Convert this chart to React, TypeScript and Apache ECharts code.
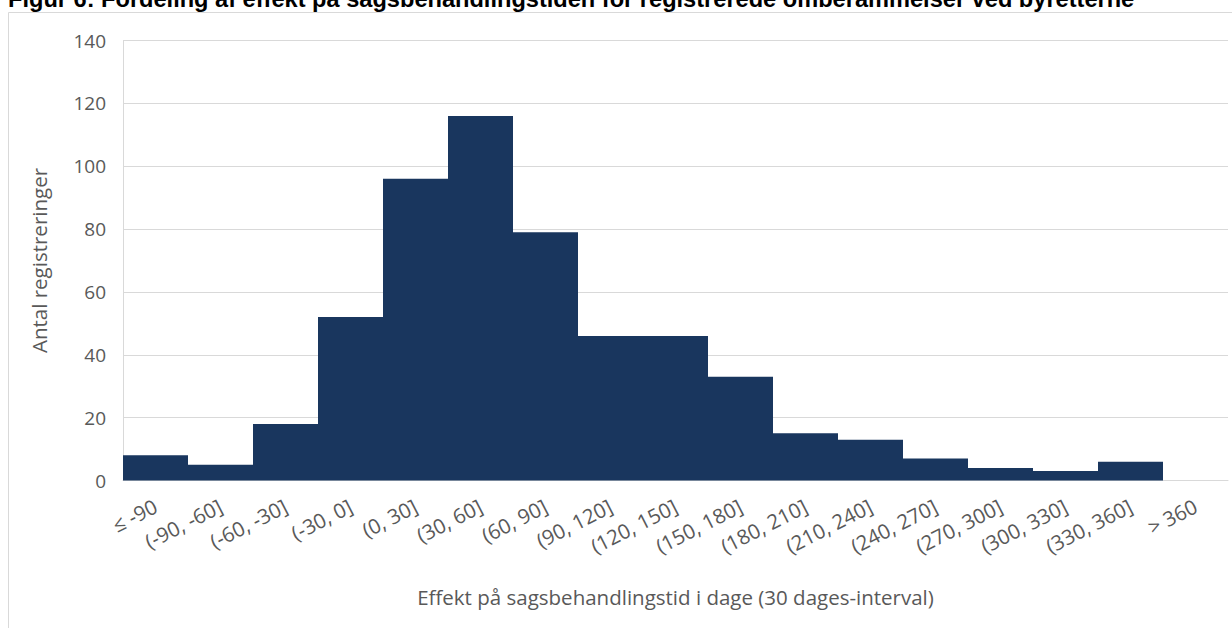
import React, { useEffect, useRef } from "react";
import * as echarts from "echarts";

const categories = [
  "≤ -90", "(-90, -60]", "(-60, -30]", "(-30, 0]", "(0, 30]", "(30, 60]", "(60, 90]",
  "(90, 120]", "(120, 150]", "(150, 180]", "(180, 210]", "(210, 240]", "(240, 270]",
  "(270, 300]", "(300, 330]", "(330, 360]", "> 360",
];
const counts = [8, 5, 18, 52, 96, 116, 79, 46, 46, 33, 15, 13, 7, 4, 3, 6, 0];
const yTicks = { min: 0, max: 140, interval: 20 };
const title = "Figur 6: Fordeling af effekt på sagsbehandlingstiden for registrerede omberammelser ved byretterne";
const yName = "Antal registreringer";
const xName = "Effekt på sagsbehandlingstid i dage (30 dages-interval)";

export default function App() {
  const ref = useRef<HTMLDivElement>(null);
  useEffect(() => {
    document.body.style.margin = "0";
    const chart = echarts.init(ref.current!, null, { renderer: "svg" });
    const font = "'Open Sans', sans-serif";
    chart.setOption({
      animation: false,
      backgroundColor: "#ffffff",
      graphic: [
        {
          type: "rect",
          shape: { x: 8.5, y: 12.5, width: 1300, height: 700 },
          style: { fill: "none", stroke: "#d9d9d9", lineWidth: 1 },
          silent: true,
        },
        {
          type: "text",
          x: 8,
          y: 11,
          style: {
            text: title,
            font: "bold 23.6px 'Liberation Sans', Arial, sans-serif",
            fill: "#000000",
            verticalAlign: "bottom",
            align: "left",
          },
        },
      ],
      grid: { left: 123, right: 4, top: 40.5, bottom: 147.5, containLabel: false },
      xAxis: {
        type: "category",
        data: categories,
        name: xName,
        nameLocation: "middle",
        nameGap: 106,
        nameTextStyle: { fontFamily: font, fontSize: 20.5, color: "#595959" },
        axisLine: { show: true, lineStyle: { color: "#d9d9d9", width: 1 } },
        axisTick: { show: false },
        axisLabel: {
          rotate: 27,
          interval: 0,
          margin: 24,
          fontFamily: font,
          fontSize: 20.5,
          color: "#595959",
        },
      },
      yAxis: {
        type: "value",
        min: yTicks.min,
        max: yTicks.max,
        interval: yTicks.interval,
        name: yName,
        nameLocation: "middle",
        nameGap: 74,
        nameTextStyle: { fontFamily: font, fontSize: 20.5, color: "#595959" },
        axisLine: { show: true, lineStyle: { color: "#d9d9d9", width: 1 } },
        axisTick: { show: false },
        splitLine: { show: true, lineStyle: { color: "#d9d9d9", width: 1 } },
        axisLabel: { margin: 17, fontFamily: font, fontSize: 19, color: "#595959" },
      },
      series: [
        {
          type: "bar",
          data: counts,
          barCategoryGap: "0%",
          itemStyle: { color: "#19365e" },
        },
      ],
    });
    return () => chart.dispose();
  }, []);
  return <div ref={ref} style={{ width: 1232, height: 628 }} />;
}
